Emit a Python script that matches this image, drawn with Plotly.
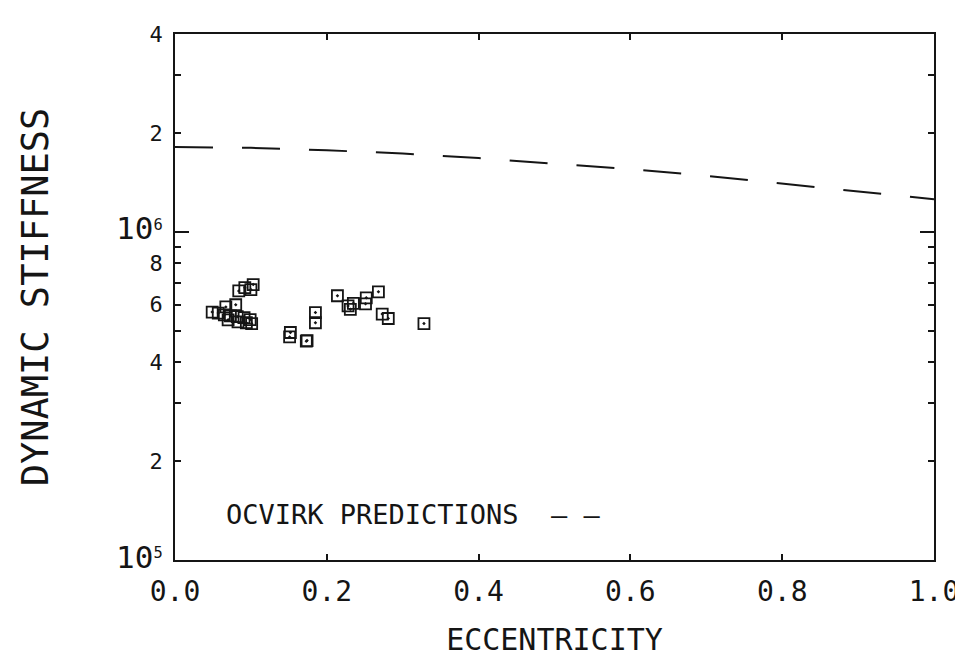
import plotly.graph_objects as go

# Measured dynamic stiffness (square symbols)
ecc_meas = [0.049, 0.057, 0.067, 0.080, 0.065, 0.073, 0.082, 0.091, 0.099, 0.070,
            0.101, 0.083, 0.094, 0.084, 0.092, 0.100, 0.103,
            0.214, 0.228, 0.235, 0.231, 0.252, 0.251, 0.268, 0.273, 0.281,
            0.328, 0.185, 0.185, 0.152, 0.151, 0.174, 0.173]
stiff_meas = [5.69e5, 5.65e5, 5.90e5, 5.99e5, 5.58e5, 5.54e5, 5.51e5, 5.47e5, 5.40e5, 5.39e5,
              5.25e5, 5.31e5, 5.28e5, 6.60e5, 6.75e5, 6.66e5, 6.90e5,
              6.38e5, 5.94e5, 6.05e5, 5.80e5, 6.29e5, 6.03e5, 6.56e5, 5.61e5, 5.44e5,
              5.25e5, 5.67e5, 5.28e5, 4.93e5, 4.78e5, 4.66e5, 4.64e5]

# Ocvirk predictions (dashed curve)
ecc_ocvirk = [0.0, 0.1, 0.2, 0.3, 0.4, 0.5, 0.6, 0.7, 0.8, 0.9, 1.0]
stiff_ocvirk = [1.81e6, 1.80e6, 1.77e6, 1.73e6, 1.675e6, 1.615e6, 1.55e6, 1.48e6, 1.40e6, 1.33e6, 1.255e6]

x_tick_vals = [0.0, 0.2, 0.4, 0.6, 0.8, 1.0]
x_tick_text = ["0.0", "0.2", "0.4", "0.6", "0.8", "1.0"]
y_tick_vals = [1e5, 2e5, 4e5, 6e5, 8e5, 1e6, 2e6, 4e6]
y_tick_text = ['<span style="font-size:31px">10</span><sup>5</sup>', "2", "4", "6", "8",
               '<span style="font-size:31px">10</span><sup>6</sup>', "2", "4"]
y_minor_vals = [3e5, 5e5, 7e5, 9e5, 3e6]
y_decade_vals = [1e6]

FONT = "DejaVu Sans Mono"
INK = "#151515"
YRANGE = [5, 6.60206]

fig = go.Figure()
fig.add_trace(go.Scatter(
    x=ecc_ocvirk, y=stiff_ocvirk, mode="lines", yaxis="y2",
    line=dict(color=INK, width=2, dash="38px,29px"), showlegend=False))
fig.add_trace(go.Scatter(
    x=ecc_meas, y=stiff_meas, mode="markers",
    marker=dict(symbol="square-open-dot", size=11, color=INK, line=dict(width=1.8, color=INK)),
    showlegend=False))

fig.update_layout(
    width=963, height=669,
    margin=dict(l=167, r=32, t=26, b=117),
    paper_bgcolor="white", plot_bgcolor="white",
    font=dict(family=FONT, color=INK, size=22),
    xaxis=dict(
        range=[0, 1], tickmode="array", tickvals=x_tick_vals, ticktext=x_tick_text,
        ticks="inside", ticklen=6, tickwidth=1.5, tickcolor=INK,
        showline=True, linewidth=1.8, linecolor=INK, mirror="ticks",
        showgrid=False, zeroline=False,
        tickfont=dict(size=28, family=FONT), ticklabelstandoff=5,
        title=dict(text="ECCENTRICITY", font=dict(size=30, family=FONT), standoff=22),
    ),
    yaxis=dict(
        type="log", range=YRANGE, tickmode="array", tickvals=y_tick_vals, ticktext=y_tick_text,
        ticks="inside", ticklen=6, tickwidth=1.5, tickcolor=INK,
        minor=dict(tickmode="array", tickvals=y_minor_vals, ticks="inside", ticklen=6,
                   tickwidth=1.5, tickcolor=INK, showgrid=False),
        showline=True, linewidth=1.8, linecolor=INK, mirror="ticks",
        showgrid=False, zeroline=False,
        tickfont=dict(size=22, family=FONT), ticklabelstandoff=6,
        title=dict(text="DYNAMIC STIFFNESS", font=dict(size=37, family=FONT), standoff=56),
    ),
    yaxis2=dict(
        type="log", range=YRANGE, overlaying="y", side="left", tickmode="array",
        tickvals=y_decade_vals, ticks="inside", ticklen=14, tickwidth=1.5, tickcolor=INK,
        showticklabels=False, showline=False, mirror="ticks", showgrid=False, zeroline=False,
    ),
    annotations=[dict(
        text="OCVIRK PREDICTIONS  \u2013 \u2013", xref="paper", yref="paper",
        x=0.065, y=0.086, xanchor="left", yanchor="middle", showarrow=False,
        font=dict(size=27, family=FONT, color=INK))],
)

fig.write_html("out.html")
